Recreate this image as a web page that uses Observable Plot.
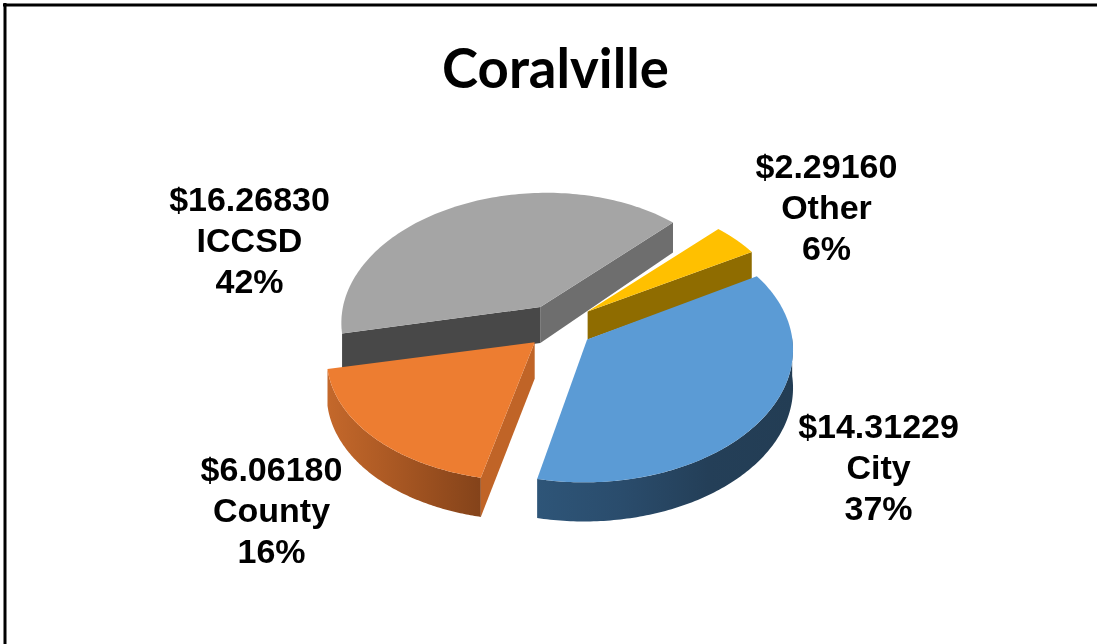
<!DOCTYPE html>
<html><head><meta charset="utf-8">
<script src="https://cdn.jsdelivr.net/npm/d3@7"></script>
<script src="https://cdn.jsdelivr.net/npm/@observablehq/plot@0.6"></script>
<style>html,body{margin:0;padding:0;background:#fff}svg{display:block;filter:blur(0.4px)}</style>
</head><body><div id="chart"></div>
<script>
const names = ["City","County","ICCSD","Other"];
const values = [14.31229,6.06180,16.26830,2.29160];
const percents = [37,16,42,6];
const topColors = ["#5b9bd5","#ed7d31","#a5a5a5","#ffc000"];
const labelX = [878,271,249,826];
const labelY = [465,508,238,205];
const depthBase = [38,36,37,28];
const depthSlope = [1,3,8,0];
const startNudge = [-4,-2,9,2];
const radX = [1.01,1.015,0.99,0.99];
const radY = [1,0.97,1,0.97];
const firstAngle = 62;
const W=1097,H=644;
const cx=559,cy=328,A=202,B=128,k=0.07,shear=-5,explode=0.176,apexLift=-3;

const total=d3.sum(values);
let acc=firstAngle;
const slices=names.map((n,i)=>{const a0=acc;acc+=values[i]/total*360;return {i,name:n,raw0:a0,raw1:acc};});
slices.forEach((s,i)=>{s.a0=s.raw0+startNudge[i];s.a1=s.raw1+startNudge[(i+1)%4];s.mid=(s.raw0+s.raw1)/2;});
const rad=d=>d*Math.PI/180;
function pt(s,theta,r=1){
  const X=Math.sin(rad(s.mid))*explode+r*radX[s.i]*Math.sin(rad(theta));
  const Y=-Math.cos(rad(s.mid))*explode-r*radY[s.i]*Math.cos(rad(theta));
  const w=1-k*Y;
  return {x:cx+A*X/w+shear*Y,y:cy+B*Y/w+(r===0?apexLift:0),d:depthBase[s.i]+depthSlope[s.i]*Y};
}
const arc=(s,a,b)=>d3.range(0,121).map(j=>pt(s,a+(b-a)*j/120));
const topFace=s=>[pt(s,0,0),...arc(s,s.a0,s.a1)];
const down=p=>({x:p.x,y:p.y+p.d});
const cutFace=(s,theta)=>{const a=pt(s,0,0),b=pt(s,theta);return [a,b,down(b),down(a)];};
const rimFace=(s,a,b)=>{const t=arc(s,a,b);return [...t,...t.slice().reverse().map(down)];};
const [city,county,iccsd,other]=slices;

const face=(pts,fill)=>Plot.line(pts,{x:"x",y:"y",fill,stroke:"none",curve:"linear-closed"});
const gradStops={
  gradCity:["#2e5578","#2a4c6c","#243f58","#233d54"],
  gradCounty:["#c4682b","#b05c25","#9a4f1f","#84431a"]
};
const defs=()=>{
  const d=d3.create("svg:defs");
  for(const [id,stops] of Object.entries(gradStops)){
    const g=d.append("linearGradient").attr("id",id);
    stops.forEach((c,j)=>g.append("stop").attr("offset",j/(stops.length-1)).attr("stop-color",c));
  }
  return d.node();
};
const labels=slices.map((s,i)=>({x:labelX[i],y:labelY[i],text:`$${values[i].toFixed(5)}\n${names[i]}\n${percents[i]}%`}));

const plot=Plot.plot({
  width:W,height:H,margin:0,
  x:{domain:[0,W],range:[0,W],axis:null},
  y:{domain:[0,H],range:[0,H],axis:null},
  marks:[
    defs,
    Plot.ruleY([4.5],{x1:3,x2:W,stroke:"#000",strokeWidth:3}),
    Plot.ruleX([4.5],{y1:3,y2:H,stroke:"#000",strokeWidth:3}),
    face(cutFace(iccsd,iccsd.a1),"#6e6e6e"),
    face(cutFace(iccsd,iccsd.a0),"#484848"),
    face(topFace(iccsd),topColors[2]),
    face(cutFace(other,other.a1),"#8f6c00"),
    face(topFace(other),topColors[3]),
    face(rimFace(county,county.a0,county.a1),"url(#gradCounty)"),
    face(cutFace(county,county.a0),"#c06427"),
    face(topFace(county),topColors[1]),
    face(rimFace(city,88,city.a1),"url(#gradCity)"),
    face(topFace(city),topColors[0]),
    Plot.text(labels,{x:"x",y:"y",text:"text",fontFamily:"Liberation Sans",fontWeight:"bold",fontSize:34,lineHeight:1.21,fill:"#000",textAnchor:"middle"}),
    Plot.text(["Coralville"],{x:555,y:70,text:d=>d,fontFamily:"Lato",fontWeight:"bold",fontSize:54.5,fill:"#000",textAnchor:"middle"})
  ]
});
document.getElementById("chart").append(plot);
</script></body></html>
